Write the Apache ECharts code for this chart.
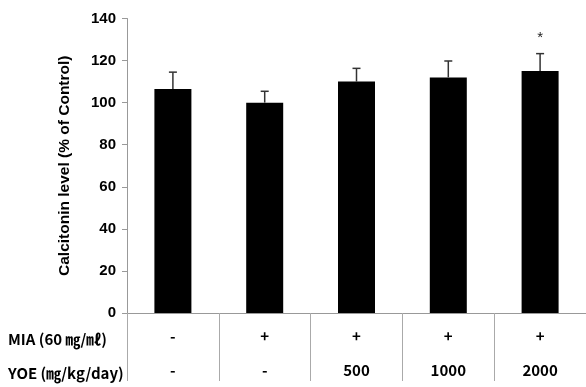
<!DOCTYPE html>
<html>
<head>
<meta charset="utf-8">
<script src="https://cdn.jsdelivr.net/npm/echarts@6/dist/echarts.min.js"></script>
<style>html,body{margin:0;padding:0;background:#fff;}#c{width:586px;height:387px;}</style>
</head>
<body>
<div id="c"></div>
<script>
const groups = ['G1', 'G2', 'G3', 'G4', 'G5'];
const miaRow = ['-', '+', '+', '+', '+'];
const yoeRow = ['-', '-', '500', '1000', '2000'];
const values = [106.5, 100, 110, 112, 115];
const errors = [8, 5.4, 6.3, 7.8, 8.3];
const marks = ['', '', '', '', '*'];
const yTicks = { min: 0, max: 140, interval: 20 };

const chart = echarts.init(document.getElementById('c'));
const tableFont = '"Noto Sans CJK KR", "Liberation Sans", sans-serif';
const axisFont = '"Liberation Sans", Arial, sans-serif';
chart.setOption({
  animation: false,
  grid: { left: 127, right: -2, top: 18.5, bottom: 68 },
  xAxis: {
    type: 'category',
    data: groups,
    axisLine: { lineStyle: { color: '#999', width: 1 } },
    axisTick: { show: true, length: 68, interval: 0, lineStyle: { color: '#aaa' } },
    axisLabel: {
      interval: 0,
      margin: 6,
      formatter: (v, i) => miaRow[i] + '\n' + yoeRow[i],
      fontFamily: tableFont,
      fontWeight: 'bold',
      fontSize: 15,
      lineHeight: 34,
      color: '#000'
    }
  },
  yAxis: {
    type: 'value',
    min: yTicks.min, max: yTicks.max, interval: yTicks.interval,
    name: 'Calcitonin level (% of Control)',
    nameLocation: 'middle',
    nameRotate: 90,
    nameGap: 54,
    nameTextStyle: { fontFamily: axisFont, fontWeight: 'bold', fontSize: 15.5, color: '#000' },
    axisLine: { show: true, lineStyle: { color: '#999' } },
    axisTick: { show: true, length: 5, lineStyle: { color: '#999' } },
    splitLine: { show: false },
    axisLabel: { fontFamily: axisFont, fontWeight: 'bold', fontSize: 15, color: '#000', margin: 11 }
  },
  series: [
    {
      type: 'bar',
      data: values,
      barWidth: 37,
      itemStyle: { color: '#000' },
      z: 2
    },
    {
      type: 'custom',
      data: values.map((v, i) => [i, v, errors[i]]),
      z: 3,
      renderItem: (params, api) => {
        const i = api.value(0);
        const base = api.coord([i, api.value(1)]);
        const top = api.coord([i, api.value(1) + api.value(2)]);
        const cap = 4;
        const children = [
          { type: 'line', shape: { x1: base[0], y1: base[1], x2: top[0], y2: top[1] }, style: { stroke: '#333', lineWidth: 1.5 } },
          { type: 'line', shape: { x1: top[0] - cap, y1: top[1], x2: top[0] + cap, y2: top[1] }, style: { stroke: '#333', lineWidth: 1.5 } }
        ];
        if (marks[i]) {
          children.push({ type: 'text', x: top[0], y: top[1] - 16, style: { text: marks[i], fill: '#222', font: '15px "Liberation Sans", Arial, sans-serif', align: 'center', verticalAlign: 'middle' } });
        }
        return { type: 'group', children };
      }
    }
  ],
  graphic: [
    { type: 'text', left: 8, top: 332, style: { text: 'MIA (60 ㎎/㎖)', fill: '#000', font: 'bold 15px ' + tableFont } },
    { type: 'text', left: 8, top: 366, style: { text: 'YOE (㎎/kg/day)', fill: '#000', font: 'bold 15px ' + tableFont } }
  ]
});
</script>
</body>
</html>
